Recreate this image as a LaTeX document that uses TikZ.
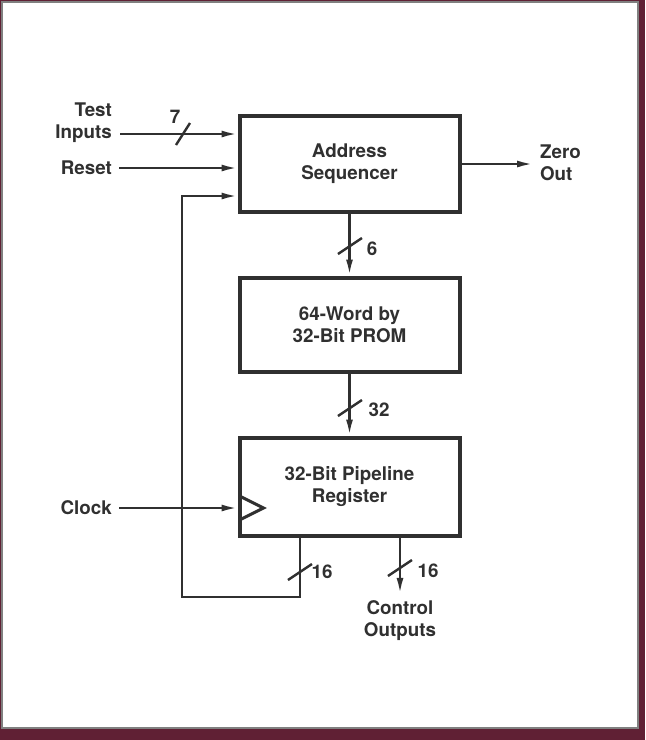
\documentclass[tikz,border=0pt]{standalone}
\usepackage{fontspec}
\setmainfont{TeX Gyre Heros}
\usetikzlibrary{arrows.meta, positioning, calc}

\definecolor{framered}{RGB}{96,32,52}
\definecolor{ink}{RGB}{48,48,48}

\begin{document}
\begin{tikzpicture}[x=0.5pt, y=-0.5pt,
    blk/.style={draw=ink, line width=2pt, minimum width=110pt, align=center,
        text=ink, font=\fontsize{9.4}{11}\selectfont\bfseries},
    lbl/.style={text=ink, font=\fontsize{9.4}{11}\selectfont\bfseries},
    sig/.style={draw=ink, line width=1.2pt, -{Latex[length=8pt,width=3.5pt]}},
    wire/.style={draw=ink, line width=1.2pt}]

    % frame
    \fill[framered] (0,0) rectangle (645,740);
    \draw[gray, fill=white, line width=0.8pt] (2,2) rectangle (638,728);

    % blocks
    \node[blk, minimum height=48pt] (seq) at (349.5,164) {Address\\Sequencer};
    \node[blk, minimum height=47pt] (prom) at (349.5,324.5) {64-Word by\\32-Bit PROM};
    \node[blk, minimum height=49pt] (reg) at (349.5,486.5) {32-Bit Pipeline\\Register};

    % outside labels
    \node[lbl, anchor=east, align=right] (tin) at (119,123) {Test\\Inputs};
    \node[lbl, anchor=east] (rst) at (119,168) {Reset};
    \node[lbl, anchor=east] (clk) at (119,508) {Clock};
    \node[lbl, anchor=west, align=left] (zero) at (533,163) {Zero\\Out};
    \node[lbl, align=center] (ctl) at (400,621) {Control\\Outputs};

    % inputs
    \coordinate (tinS) at (120,134);
    \draw[sig] (tinS) -- (tinS -| seq.west);
    \draw[sig] (rst.east) -- (rst.east -| seq.west);
    \draw[sig] (seq.east) -- (seq.east -| zero.west);

    % buses
    \draw[sig] (seq.south) -- (prom.north);
    \draw[sig] (prom.south) -- (reg.north);
    \draw[sig] (reg.south -| ctl) -- (ctl.north);

    % feedback
    \coordinate (fb1) at (300,597);
    \coordinate (fb2) at (182,597);
    \coordinate (fb3) at (182,196);
    \draw[sig] (reg.south -| fb1) -- (fb1) -- (fb2) -- (fb3) -- (fb3 -| seq.west);

    % clock
    \draw[sig] (clk.east) -- (clk.east -| reg.west);
    \coordinate (ck) at (clk.east -| reg.west);
    \draw[wire, line width=1.5pt, line join=miter] ($(ck)+(2,-12)$) -- ($(ck)+(26,0)$) -- ($(ck)+(2,12)$);

    % bus width marks
    \coordinate (w7) at (183,134);
    \draw[wire] ($(w7)+(-7,11)$) -- ($(w7)+(7,-11)$);
    \foreach \name/\px/\py in {w6/350/246, w32/350/408, w16a/300/572, w16b/400/568}
    {
        \coordinate (\name) at (\px,\py);
        \draw[wire] ($(\name)+(-12,8)$) -- ($(\name)+(12,-8)$);
    }
    \node[lbl] (n7) at (175,117) {7};
    \node[lbl] (n6) at (372,249) {6};
    \node[lbl] (n32) at (379,410) {32};
    \node[lbl] (n16a) at (322,572) {16};
    \node[lbl] (n16b) at (428,571) {16};
\end{tikzpicture}
\end{document}
